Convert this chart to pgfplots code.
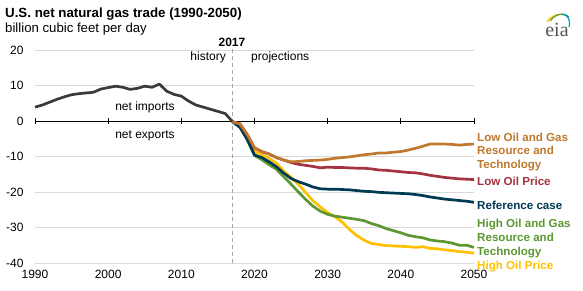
\documentclass[border=0pt]{standalone}
\usepackage{fontspec}
\setmainfont{Liberation Sans}
\newfontfamily\logofont{Liberation Serif}
\usepackage{pgfplots}
\usepackage{pgfplotstable}
\pgfplotsset{compat=1.18}
\definecolor{histgray}{HTML}{3A3A3A}
\definecolor{lowres}{HTML}{C0782F}
\definecolor{lowoil}{HTML}{A33340}
\definecolor{refcase}{HTML}{003953}
\definecolor{highres}{HTML}{5D9732}
\definecolor{highoil}{HTML}{FFC000}
\definecolor{gridgray}{HTML}{D9D9D9}
\definecolor{dashgray}{HTML}{A6A6A6}
\definecolor{logogray}{HTML}{555555}
\definecolor{logoblue}{HTML}{0096D6}

\pgfplotstableread{
year net
1990 3.9
1991 4.5
1992 5.3
1993 6.1
1994 6.8
1995 7.4
1996 7.7
1997 7.9
1998 8.1
1999 9.0
2000 9.4
2001 9.8
2002 9.5
2003 8.9
2004 9.2
2005 9.8
2006 9.5
2007 10.4
2008 8.4
2009 7.5
2010 7.0
2011 5.6
2012 4.5
2013 3.9
2014 3.3
2015 2.7
2016 2.1
2017 -0.2
}\history

% projection cases
\pgfplotstableread{
year ref lowres lowoil highres highoil
2017 -0.2 -0.2 -0.2 -0.2 -0.2
2018 -1.8 -0.8 -0.8 -1.5 -1.2
2019 -5.1 -3.7 -3.9 -5.3 -4.8
2020 -9.6 -7.5 -7.6 -9.7 -8.6
2021 -10.3 -8.7 -8.6 -10.9 -9.5
2022 -11.5 -9.3 -9.3 -12.3 -10.5
2023 -12.9 -10.3 -10.3 -13.6 -11.9
2024 -14.7 -11.0 -11.0 -15.7 -14.1
2025 -16.2 -11.5 -11.7 -17.8 -15.9
2026 -17.1 -11.4 -12.2 -20.0 -17.8
2027 -17.8 -11.2 -12.5 -22.1 -20.2
2028 -18.6 -11.1 -12.8 -24.0 -22.5
2029 -19.1 -11.0 -13.2 -25.4 -24.2
2030 -19.2 -10.8 -13.0 -26.3 -25.8
2031 -19.2 -10.5 -13.1 -26.8 -27.0
2032 -19.3 -10.3 -13.1 -27.1 -28.5
2033 -19.4 -10.1 -13.2 -27.4 -30.6
2034 -19.6 -9.8 -13.3 -27.7 -32.3
2035 -19.8 -9.5 -13.3 -28.1 -33.6
2036 -19.9 -9.3 -13.5 -28.9 -34.5
2037 -20.1 -9.0 -13.8 -29.5 -34.8
2038 -20.2 -9.0 -13.9 -30.3 -35.1
2039 -20.3 -8.8 -14.1 -30.9 -35.2
2040 -20.4 -8.6 -14.3 -31.5 -35.3
2041 -20.5 -8.2 -14.5 -32.2 -35.4
2042 -20.7 -7.7 -14.6 -32.6 -35.6
2043 -21.0 -7.1 -14.9 -32.9 -35.4
2044 -21.4 -6.5 -15.3 -33.5 -35.9
2045 -21.7 -6.5 -15.6 -33.8 -36.0
2046 -22.0 -6.5 -15.9 -34.0 -36.3
2047 -22.2 -6.6 -16.1 -34.4 -36.5
2048 -22.4 -6.8 -16.3 -35.0 -36.8
2049 -22.6 -6.6 -16.4 -35.0 -37.0
2050 -22.9 -6.5 -16.5 -35.6 -37.2
}\cases

\begin{document}
\begin{tikzpicture}
\path[use as bounding box] (-35pt,-28pt) rectangle (548pt,263pt);
\begin{axis}[
  at={(0,0)}, anchor=south west,
  scale only axis, width=439pt, height=213pt,
  xmin=1990, xmax=2050, ymin=-40, ymax=20,
  xtick={1990,2000,...,2050}, ytick={-40,-30,...,20},
  axis line style={draw=none}, tick style={draw=none},
  ymajorgrids, grid style={gridgray, line width=0.9pt},
  xticklabel style={font=\fontsize{12}{14}\selectfont, yshift=-4pt},
  yticklabel style={font=\fontsize{12}{14}\selectfont, xshift=-8pt},
  /pgf/number format/assume math mode=true,
  /pgf/number format/1000 sep={},
  clip=false,
  every axis plot/.append style={line width=2.7pt, line join=round},
]
\draw[dashgray, line width=0.8pt, dash pattern=on 4pt off 3pt]
  (axis cs:2017,-40) -- (axis cs:2017,20.8);
\draw[black, line width=0.9pt] (axis cs:1990,0) -- (axis cs:2050,0);
\pgfplotsinvokeforeach{1990,2000,2010,2020,2030,2040,2050}{
  \draw[black, line width=0.8pt] ([yshift=-3pt]axis cs:#1,0) -- ([yshift=3pt]axis cs:#1,0);
}
\addplot[histgray] table[x=year, y=net] {\history};
\addplot[highoil] table[x=year, y=highoil] {\cases};
\addplot[highres] table[x=year, y=highres] {\cases};
\addplot[refcase] table[x=year, y=ref] {\cases};
\addplot[lowoil] table[x=year, y=lowoil] {\cases};
\addplot[lowres] table[x=year, y=lowres] {\cases};
\end{axis}

% titles
\node[anchor=west, inner sep=0, font=\fontsize{13.3}{15}\selectfont\bfseries]
  at (-30pt,249pt) {U.S. net natural gas trade (1990-2050)};
\node[anchor=west, inner sep=0, font=\fontsize{13.2}{15}\selectfont]
  at (-30pt,234pt) {billion cubic feet per day};

% history / projections divider
\node[inner sep=0, font=\fontsize{12}{14}\selectfont\bfseries] at (197pt,221pt) {2017};
\node[anchor=east, inner sep=0, font=\fontsize{12}{14}\selectfont] at (191pt,205.5pt) {history};
\node[anchor=west, inner sep=0, font=\fontsize{12}{14}\selectfont] at (216pt,205.5pt) {projections};
\node[inner sep=0, font=\fontsize{12}{14}\selectfont] at (110pt,156pt) {net imports};
\node[inner sep=0, font=\fontsize{12}{14}\selectfont] at (110pt,127pt) {net exports};

% case labels
\begin{scope}[every node/.style={anchor=west, inner sep=0, align=left,
    font=\fontsize{11.6}{13.8}\selectfont\bfseries}]
\node[text=lowres] at (442pt,111pt) {Low Oil and Gas\\Resource and\\Technology};
\node[text=lowoil] at (442pt,82pt) {Low Oil Price};
\node[text=refcase] at (442pt,58pt) {Reference case};
\node[text=highres] at (442pt,24.5pt) {High Oil and Gas\\Resource and\\Technology};
\node[text=highoil] at (442pt,-4pt) {High Oil Price};
\end{scope}

% eia logo
\node[inner sep=0, text=logogray, font=\fontsize{20}{20}\selectfont\logofont] at (522pt,233pt) {eia};
\draw[highoil, line width=1.2pt] (512pt,241pt) .. controls (516pt,248pt) and (524pt,250pt) .. (530pt,248pt);
\draw[highres, line width=1.2pt] (515pt,242pt) .. controls (520pt,249pt) and (529pt,251pt) .. (534pt,246pt);
\draw[logoblue, line width=1.2pt] (527pt,249pt) .. controls (533pt,248pt) and (536pt,243pt) .. (534pt,236pt);
\end{tikzpicture}
\end{document}
